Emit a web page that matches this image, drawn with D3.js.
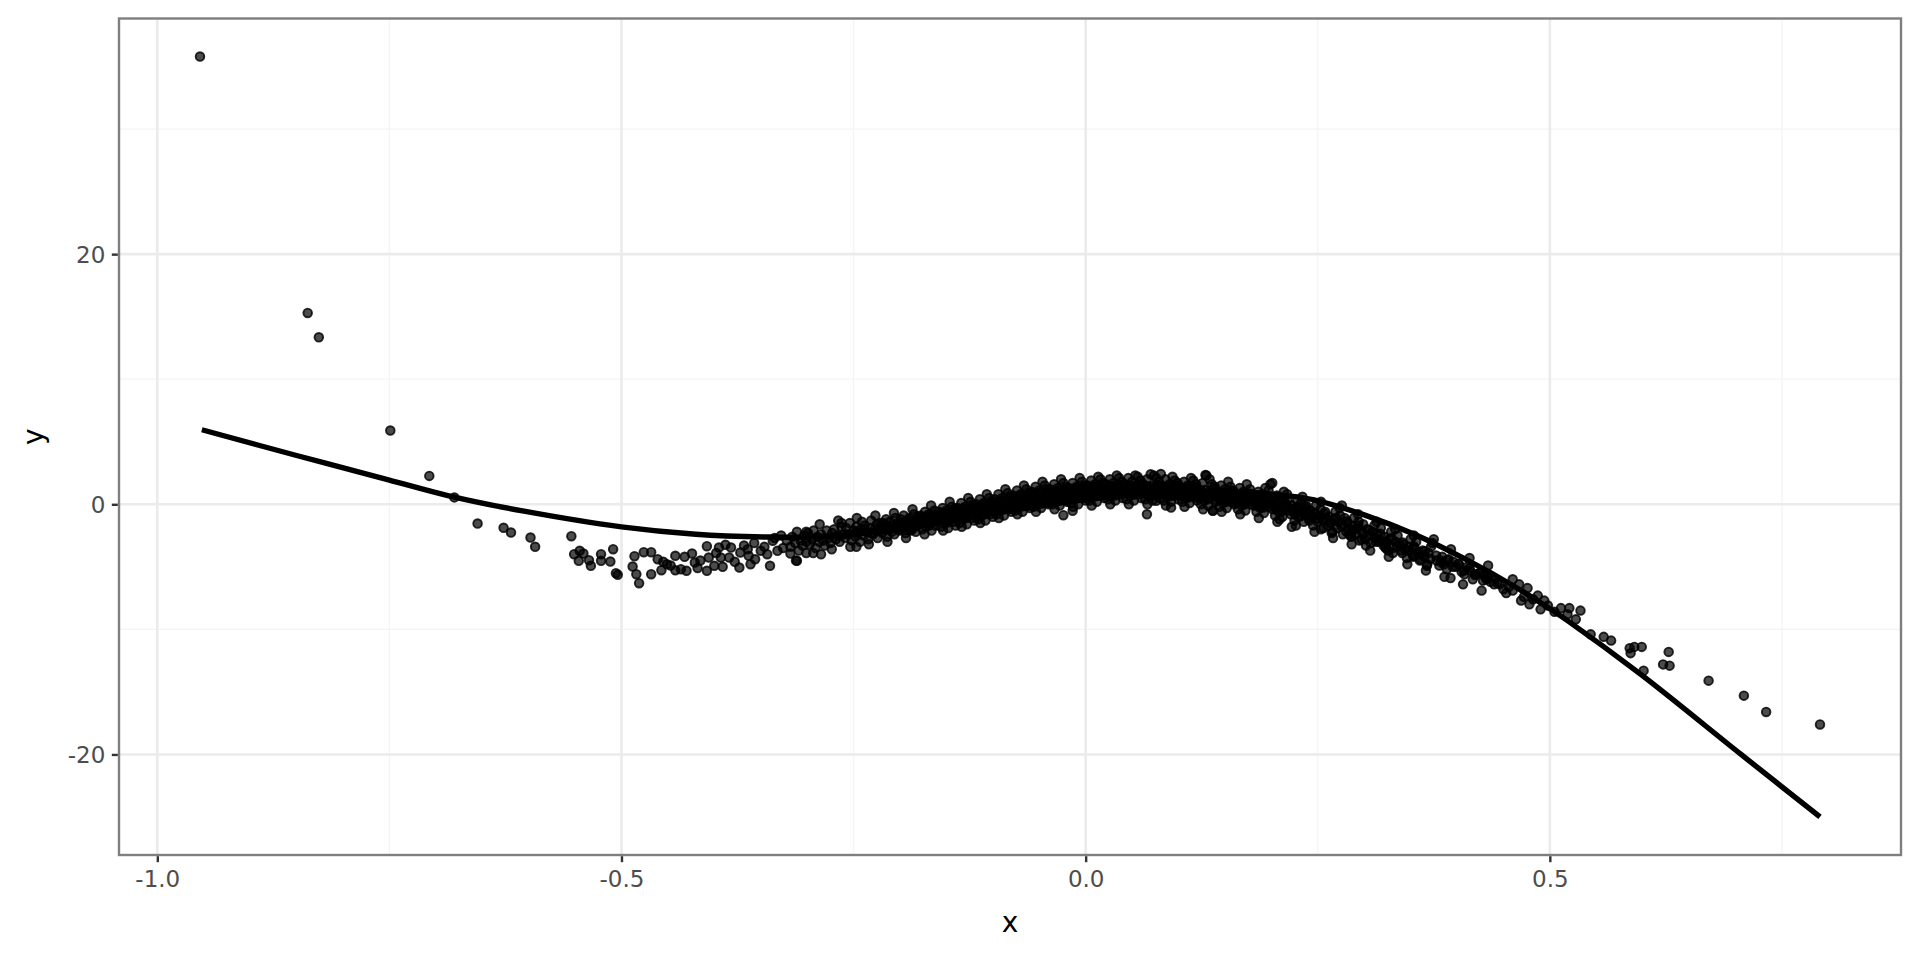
<!DOCTYPE html>
<html>
<head>
<meta charset="utf-8">
<script src="https://cdn.jsdelivr.net/npm/d3@7"></script>
<style>
  html, body { margin: 0; padding: 0; background: #fff; }
  svg { display: block; font-family: "DejaVu Sans", sans-serif; }
</style>
</head>
<body>
<div id="vis"></div>
<script>
// ---- data ----
const xTicks = [-1.0, -0.5, 0.0, 0.5]
const xMinor = [-0.75, -0.25, 0.25, 0.75]
const yTicks = [-20, 0, 20]
const yMinor = [-10, 10, 30]

// isolated points far to the left
const farLeftPts = [[-0.954, 35.8], [-0.838, 15.3], [-0.826, 13.35], [-0.749, 5.9]]

// sparse left tail of the cloud
const leftTailPts = [
  [-0.707, 2.27], [-0.680, 0.55], [-0.655, -1.54], [-0.627, -1.88], [-0.619, -2.26], [-0.598, -2.66], [-0.593, -3.40],
  [-0.554, -2.55], [-0.551, -3.99], [-0.545, -3.72], [-0.546, -4.52], [-0.541, -3.94], [-0.535, -4.47], [-0.533, -4.92],
  [-0.522, -3.99], [-0.522, -4.52], [-0.512, -4.58], [-0.509, -3.59], [-0.506, -5.51], [-0.504, -5.64], [-0.488, -4.98],
  [-0.486, -4.15], [-0.484, -5.59], [-0.481, -6.31], [-0.476, -3.83], [-0.468, -3.83], [-0.468, -5.59], [-0.461, -4.39],
  [-0.457, -5.27], [-0.451, -4.79], [-0.442, -4.12], [-0.442, -5.27], [-0.436, -5.19], [-0.432, -4.20], [-0.430, -5.32],
  [-0.424, -3.94], [-0.421, -4.66], [-0.408, -3.35], [-0.408, -5.32], [-0.406, -4.26], [-0.400, -4.92], [-0.395, -3.46],
  [-0.393, -4.26], [-0.388, -3.24], [-0.384, -4.26], [-0.382, -3.46], [-0.373, -5.06], [-0.372, -3.86], [-0.364, -3.59],
  [-0.361, -4.79], [-0.363, -4.12], [-0.350, -3.72], [-0.343, -3.99], [-0.340, -4.92], [-0.337, -2.92], [-0.332, -3.72],
  [-0.318, -3.94], [-0.311, -4.52], [-0.335, -2.7], [-0.328, -2.5], [-0.322, -2.9],
  [-0.455, -4.6], [-0.447, -4.9], [-0.415, -4.5], [-0.398, -3.9], [-0.378, -4.6], [-0.368, -3.3], [-0.356, -4.4],
  [-0.346, -3.4], [-0.326, -3.5], [-0.357, -3.1], [-0.391, -5.0], [-0.418, -5.1]
]

// dense band in the middle
const centralPts = [
  [-0.318, -3.4], [-0.316, -2.6], [-0.313, -3.1], [-0.311, -2.2], [-0.309, -3.7], [-0.307, -2.9], [-0.305, -3.3], [-0.303, -2.5], [-0.301, -3.0],
  [-0.312, -4.5], [-0.301, -3.9], [-0.285, -4.0], [-0.247, -3.4], [-0.263, -1.5], [-0.301, -2.2],
  [-0.299, -2.3], [-0.297, -3.2], [-0.295, -2.8], [-0.293, -2.1], [-0.291, -3.5], [-0.289, -2.6], [-0.287, -3.0], [-0.285, -2.4], [-0.283, -2.9], [-0.281, -3.3],
  [-0.279, -2.1], [-0.277, -2.7], [-0.275, -3.1], [-0.273, -2.3], [-0.271, -2.0], [-0.269, -2.8], [-0.267, -2.5], [-0.265, -3.0], [-0.263, -1.8], [-0.261, -2.4],
  [-0.259, -2.7], [-0.258, -1.9], [-0.256, -2.4], [-0.254, -1.5], [-0.252, -2.9], [-0.250, -2.1], [-0.248, -2.6], [-0.247, -1.8], [-0.245, -2.3], [-0.243, -3.0], [-0.242, -2.0], [-0.241, -1.4],
  [-0.239, -2.5], [-0.238, -1.7], [-0.236, -2.2], [-0.234, -2.8], [-0.232, -1.9], [-0.231, -1.3], [-0.229, -2.4], [-0.227, -2.0], [-0.225, -1.6], [-0.224, -2.7], [-0.222, -2.1], [-0.221, -1.5],
  [-0.219, -2.3], [-0.218, -1.5], [-0.217, -2.0], [-0.215, -1.2], [-0.214, -2.6], [-0.212, -1.8], [-0.211, -1.4], [-0.209, -2.2], [-0.208, -1.7], [-0.206, -2.4], [-0.205, -1.1], [-0.203, -1.9], [-0.202, -1.6], [-0.201, -2.1],
  [-0.199, -1.2], [-0.198, -2.0], [-0.197, -1.6], [-0.196, -0.9], [-0.194, -2.3], [-0.193, -1.4], [-0.192, -1.8], [-0.190, -1.1], [-0.189, -2.1], [-0.188, -1.5], [-0.186, -1.9], [-0.185, -0.8], [-0.184, -1.3], [-0.183, -2.2], [-0.182, -1.7], [-0.181, -1.0],
  [-0.179, -1.6], [-0.178, -0.9], [-0.177, -1.4], [-0.176, -2.0], [-0.174, -1.1], [-0.173, -0.6], [-0.172, -1.8], [-0.171, -1.3], [-0.169, -0.8], [-0.168, -1.5], [-0.166, -2.1], [-0.165, -1.0], [-0.164, -1.2], [-0.163, -0.5], [-0.162, -1.7], [-0.161, -1.4],
  [-0.159, -1.3], [-0.158, -0.6], [-0.157, -1.1], [-0.156, -1.8], [-0.155, -0.8], [-0.154, -0.3], [-0.152, -1.5], [-0.151, -1.0], [-0.150, -0.5], [-0.149, -1.2], [-0.148, -1.9], [-0.146, -0.7], [-0.145, -0.9], [-0.144, -0.2], [-0.143, -1.4], [-0.142, -1.1], [-0.141, -0.4], [-0.140, -1.7],
  [-0.139, -1.0], [-0.138, -0.3], [-0.137, -0.8], [-0.136, -1.5], [-0.135, -0.5], [-0.134, 0.1], [-0.132, -1.2], [-0.131, -0.7], [-0.130, -0.2], [-0.129, -0.9], [-0.128, -1.6], [-0.126, -0.4], [-0.125, -0.6], [-0.124, 0.2], [-0.123, -1.1], [-0.122, -0.8], [-0.121, -0.1], [-0.120, -1.3],
  [-0.119, -0.7], [-0.118, 0.0], [-0.117, -0.5], [-0.116, -1.2], [-0.115, -0.2], [-0.114, 0.4], [-0.112, -0.9], [-0.111, -0.4], [-0.110, 0.1], [-0.109, -0.6], [-0.108, -1.3], [-0.106, -0.1], [-0.105, -0.3], [-0.104, 0.5], [-0.103, -0.8], [-0.102, -0.5], [-0.101, 0.2], [-0.100, -1.0],
  [-0.099, -0.3], [-0.098, 0.4], [-0.097, -0.1], [-0.096, -0.8], [-0.095, 0.2], [-0.094, 0.8], [-0.092, -0.5], [-0.091, 0.0], [-0.090, 0.5], [-0.089, -0.2], [-0.088, -0.9], [-0.086, 0.3], [-0.085, 0.1], [-0.084, 0.9], [-0.083, -0.4], [-0.082, -0.1], [-0.081, 0.6], [-0.080, -0.6],
  [-0.079, 0.0], [-0.078, 0.7], [-0.077, 0.2], [-0.076, -0.5], [-0.075, 0.5], [-0.074, 1.1], [-0.072, -0.2], [-0.071, 0.3], [-0.070, 0.8], [-0.069, 0.1], [-0.068, -0.6], [-0.066, 0.6], [-0.065, 0.4], [-0.064, 1.2], [-0.063, -0.1], [-0.062, 0.2], [-0.061, 0.9], [-0.060, -0.3],
  [-0.024, -0.87], [-0.014, -0.52],
  [-0.059, 0.3], [-0.058, 1.0], [-0.057, 0.5], [-0.056, -0.2], [-0.055, 0.8], [-0.054, 1.4], [-0.052, 0.1], [-0.051, 0.6], [-0.050, 1.1], [-0.049, 0.4], [-0.048, -0.3], [-0.046, 0.9], [-0.045, 0.7], [-0.044, 1.5], [-0.043, 0.2], [-0.042, 0.5], [-0.041, 1.2], [-0.040, 0.0],
  [-0.039, 0.5], [-0.038, 1.2], [-0.037, 0.7], [-0.036, 0.0], [-0.035, 1.0], [-0.034, 1.6], [-0.032, 0.3], [-0.031, 0.8], [-0.030, 1.3], [-0.029, 0.6], [-0.028, -0.1], [-0.026, 1.1], [-0.025, 0.9], [-0.024, 1.7], [-0.023, 0.4], [-0.022, 0.7], [-0.021, 1.4], [-0.020, 0.2],
  [-0.019, 0.6], [-0.018, 1.3], [-0.017, 0.8], [-0.016, 0.1], [-0.015, 1.1], [-0.014, 1.7], [-0.012, 0.4], [-0.011, 0.9], [-0.010, 1.4], [-0.009, 0.7], [-0.008, 0.0], [-0.006, 1.2], [-0.005, 1.0], [-0.004, 1.8], [-0.003, 0.5], [-0.002, 0.8], [-0.001, 1.5], [0.000, 0.3],
  [0.001, 0.8], [0.002, 1.5], [0.003, 1.0], [0.004, 0.3], [0.005, 1.3], [0.006, 1.9], [0.008, 0.6], [0.009, 1.1], [0.010, 1.6], [0.011, 0.9], [0.012, 0.2], [0.014, 1.4], [0.015, 1.2], [0.016, 2.0], [0.017, 0.7], [0.018, 1.0], [0.019, 1.7], [0.020, 0.5],
  [0.021, 0.9], [0.022, 1.6], [0.023, 1.1], [0.024, 0.4], [0.025, 1.4], [0.026, 2.0], [0.028, 0.7], [0.029, 1.2], [0.030, 1.7], [0.031, 1.0], [0.032, 0.3], [0.034, 1.5], [0.035, 1.3], [0.036, 2.1], [0.037, 0.8], [0.038, 1.1], [0.039, 1.8], [0.040, 0.5],
  [0.041, 0.9], [0.042, 1.6], [0.043, 1.1], [0.044, 0.4], [0.045, 1.4], [0.046, 2.1], [0.048, 0.7], [0.049, 1.2], [0.050, 1.8], [0.051, 1.0], [0.052, 0.3], [0.054, 1.5], [0.055, 1.3], [0.056, 2.2], [0.057, 0.8], [0.058, 1.1], [0.059, 1.9], [0.060, 0.5],
  [0.061, 0.9], [0.062, 1.6], [0.063, 1.1], [0.064, 0.4], [0.065, 1.4], [0.066, 2.0], [0.068, 0.7], [0.069, 1.2], [0.070, 2.4], [0.071, 1.0], [0.072, 0.3], [0.074, 1.5], [0.075, 1.3], [0.076, 2.1], [0.077, 0.8], [0.078, 1.1], [0.079, 1.8], [0.080, 0.5], [0.066, -0.8],
  [0.081, 0.8], [0.082, 1.5], [0.083, 1.0], [0.084, 0.3], [0.085, 1.3], [0.086, 2.0], [0.088, 0.6], [0.089, 1.1], [0.090, 1.6], [0.091, 0.9], [0.092, 0.2], [0.094, 1.4], [0.095, 1.2], [0.096, 1.9], [0.097, 0.7], [0.098, 1.0], [0.099, 1.7], [0.100, 0.4],
  [0.076, 0.28], [0.092, -0.26], [0.137, -0.52], [0.081, 2.42], [0.129, 2.34],
  [0.101, 0.7], [0.102, 1.4], [0.103, 0.9], [0.104, 0.2], [0.105, 1.2], [0.106, 1.8], [0.108, 0.5], [0.109, 1.0], [0.110, 1.5], [0.111, 0.8], [0.112, 0.1], [0.114, 1.3], [0.115, 1.1], [0.116, 1.9], [0.117, 0.6], [0.118, 0.9], [0.119, 1.6], [0.120, 0.3],
  [0.121, 0.5], [0.122, 1.2], [0.123, 0.7], [0.124, 0.0], [0.125, 1.0], [0.126, 1.7], [0.128, 0.3], [0.129, 0.8], [0.130, 2.3], [0.131, 0.6], [0.132, -0.1], [0.134, 1.1], [0.135, 0.9], [0.136, 1.6], [0.137, -0.5], [0.138, 0.7], [0.139, 1.4], [0.140, 0.2],
  [0.141, 0.3], [0.142, 1.0], [0.143, 0.5], [0.144, -0.2], [0.145, 0.8], [0.146, 1.5], [0.148, 0.1], [0.149, 0.6], [0.150, 1.2], [0.151, 0.4], [0.152, -0.3], [0.154, 0.9], [0.155, 0.7], [0.156, 1.4], [0.157, 0.2], [0.158, 0.5], [0.159, 1.1], [0.160, 0.0],
  [0.161, 0.1], [0.162, 0.8], [0.163, 0.3], [0.164, -0.4], [0.165, 0.6], [0.166, 1.3], [0.168, -0.1], [0.169, 0.4], [0.170, 1.0], [0.171, 0.2], [0.172, -0.5], [0.174, 0.7], [0.176, 0.5], [0.177, 1.2], [0.178, 0.0], [0.179, 0.3],
  [0.181, -0.1], [0.182, 0.6], [0.183, 0.1], [0.184, -0.6], [0.185, 0.4], [0.186, 1.0], [0.188, -0.3], [0.189, 0.2], [0.190, 0.8], [0.191, 0.0], [0.192, -0.7], [0.194, 0.5], [0.196, 0.3], [0.197, 1.1], [0.198, -0.2], [0.199, 1.6],
  [0.201, -0.4], [0.202, 0.3], [0.203, -0.2], [0.204, -0.9], [0.205, 0.1], [0.206, 0.7], [0.208, -0.6], [0.209, -1.2], [0.210, 0.5], [0.211, -0.3], [0.212, -1.0], [0.214, 0.2], [0.216, 0.0], [0.217, 0.8], [0.219, -0.5], [0.222, -1.8], [0.201, 1.7],
  [0.221, -0.8], [0.222, -0.1], [0.224, -0.6], [0.225, -1.3], [0.226, -0.3], [0.228, 0.3], [0.229, -1.0], [0.231, -0.5], [0.232, 0.1], [0.234, -0.7], [0.235, -1.4], [0.237, -0.2], [0.238, -0.4], [0.240, -1.1],
  [0.241, -1.3], [0.242, -0.5], [0.244, -1.0], [0.245, -1.7], [0.247, -0.7], [0.248, -0.1], [0.250, -1.4], [0.252, -0.9], [0.253, -0.4], [0.255, -1.2], [0.256, -1.9], [0.258, -0.6], [0.259, -1.1],
  [0.261, -1.7], [0.262, -1.0], [0.264, -1.5], [0.266, -2.2], [0.267, -1.2], [0.269, -0.6], [0.271, -1.9], [0.272, -1.4], [0.274, -0.9], [0.276, -1.6], [0.277, -2.4], [0.279, -1.1], [0.276, -0.1], [0.286, -2.5],
  [0.281, -2.2], [0.282, -1.5], [0.284, -2.0], [0.286, -2.6], [0.287, -1.7], [0.289, -1.1], [0.291, -2.4], [0.292, -1.9], [0.294, -1.4], [0.296, -2.1], [0.297, -2.8], [0.299, -1.6], [0.302, -3.3],
  [0.301, -2.8], [0.303, -2.0], [0.305, -2.5], [0.307, -3.1], [0.309, -2.2], [0.311, -1.7], [0.312, -2.7], [0.314, -2.4], [0.316, -3.0], [0.318, -1.9],
  [0.321, -3.3], [0.322, -2.6], [0.324, -3.1], [0.326, -3.7], [0.327, -2.8], [0.329, -2.2], [0.331, -3.5], [0.334, -3.0], [0.336, -2.5], [0.338, -3.2], [0.323, -3.46], [0.316, -2.92],
  [0.341, -3.9], [0.342, -3.2], [0.344, -3.6], [0.346, -4.3], [0.348, -3.4], [0.350, -2.8], [0.352, -4.0], [0.354, -3.5], [0.356, -3.0], [0.358, -3.8], [0.354, -4.12],
  [0.361, -4.4], [0.363, -3.7], [0.365, -4.2], [0.368, -4.8], [0.369, -3.9], [0.372, -3.4], [0.375, -2.8], [0.378, -4.5],
  [0.381, -4.9], [0.384, -4.2], [0.386, -4.8], [0.389, -5.2], [0.391, -4.4], [0.393, -5.9], [0.396, -4.6], [0.399, -5.0],
  [0.402, -4.8], [0.405, -5.4], [0.408, -5.6], [0.411, -5.0], [0.414, -5.3], [0.417, -6.0], [0.420, -5.6],
  [0.424, -5.5], [0.429, -5.7], [0.433, -5.9], [0.436, -6.2], [0.440, -6.4], [0.428, -6.1],
  [0.446, -6.4], [0.450, -6.8], [0.453, -7.1], [0.456, -6.6], [0.460, -6.0], [0.460, -6.9], [0.467, -6.4]
]

// more of the band where it is thickest
const centralPts2 = [
  [-0.2475, -2.2], [-0.2385, -1.95], [-0.2295, -2.3], [-0.2205, -1.75], [-0.2115, -2.0], [-0.2025, -1.5],
  [-0.1975, -1.45], [-0.1935, -1.75], [-0.1905, -1.3], [-0.1875, -2.05], [-0.1845, -1.55], [-0.1815, -1.2],
  [-0.1775, -1.1], [-0.1745, -1.5], [-0.1715, -0.95], [-0.1685, -1.7], [-0.1655, -1.3], [-0.1625, -0.85],
  [-0.1575, -0.85], [-0.1545, -1.25], [-0.1515, -0.7], [-0.1485, -1.45], [-0.1455, -1.05], [-0.1425, -0.6],
  [-0.1375, -0.55], [-0.1345, -0.95], [-0.1315, -0.35], [-0.1285, -1.1], [-0.1255, -0.75], [-0.1225, -0.25],
  [-0.1175, -0.25], [-0.1145, -0.65], [-0.1115, -0.05], [-0.1085, -0.8], [-0.1055, -0.45], [-0.1025, 0.05],
  [-0.0975, 0.15], [-0.0945, -0.25], [-0.0915, 0.35], [-0.0885, -0.4], [-0.0855, -0.05], [-0.0825, 0.45],
  [-0.0775, 0.45], [-0.0745, 0.05], [-0.0715, 0.65], [-0.0685, -0.1], [-0.0655, 0.25], [-0.0625, 0.75],
  [-0.0575, 0.7], [-0.0545, 0.3], [-0.0515, 0.9], [-0.0485, 0.15], [-0.0455, 0.5], [-0.0425, 1.0],
  [-0.0375, 0.9], [-0.0345, 0.5], [-0.0315, 1.1], [-0.0285, 0.35], [-0.0255, 0.7], [-0.0225, 1.2],
  [-0.0175, 1.05], [-0.0145, 0.65], [-0.0115, 1.25], [-0.0085, 0.5], [-0.0055, 0.85], [-0.0025, 1.35],
  [0.0025, 1.2], [0.0055, 0.8], [0.0085, 1.4], [0.0115, 0.65], [0.0145, 1.0], [0.0175, 1.5],
  [0.0225, 1.25], [0.0255, 0.85], [0.0285, 1.45], [0.0315, 0.7], [0.0345, 1.05], [0.0375, 1.55],
  [0.0425, 1.3], [0.0455, 0.9], [0.0485, 1.5], [0.0515, 0.75], [0.0545, 1.1], [0.0575, 1.6],
  [0.0625, 1.25], [0.0655, 0.85], [0.0685, 1.45], [0.0715, 0.7], [0.0745, 1.05], [0.0775, 1.55],
  [0.0825, 1.2], [0.0855, 0.8], [0.0885, 1.4], [0.0915, 0.65], [0.0945, 1.0], [0.0975, 1.5],
  [0.1025, 1.1], [0.1055, 0.7], [0.1085, 1.3], [0.1115, 0.55], [0.1145, 0.9], [0.1175, 1.4],
  [0.1225, 0.95], [0.1255, 0.55], [0.1285, 1.15], [0.1315, 0.4], [0.1345, 0.75], [0.1375, 1.25],
  [0.1425, 0.75], [0.1455, 0.35], [0.1485, 0.95], [0.1515, 0.2], [0.1545, 0.55], [0.1575, 1.05],
  [0.1625, 0.55], [0.1655, 0.15], [0.1685, 0.75], [0.1715, 0.0], [0.1745, 0.35], [0.1775, 0.85],
  [0.1825, 0.3], [0.1855, -0.1], [0.1885, 0.5], [0.1915, -0.25], [0.1945, 0.1], [0.1975, 0.6],
  [0.2025, 0.0], [0.2055, -0.4], [0.2085, 0.2], [0.2115, -0.55], [0.2145, -0.2], [0.2175, 0.3],
  [0.2225, -0.4], [0.2255, -0.8], [0.2285, -0.2], [0.2315, -0.95], [0.2345, -0.6], [0.2375, -0.1],
  [0.2533, -1.99], [0.2838, -2.39], [0.3125, -3.0], [0.331, -3.9], [0.353, -4.2], [0.3675, -4.92],
  [0.3825, -4.52], [0.3233, -3.5], [0.295, -2.9], [0.265, -2.3], [0.34, -3.7], [0.36, -4.5]
]

// points at the upper and lower edges of the band, and the right-hand band body
const bandEdgePts = [
  [-0.2935, -3.9], [-0.2865, -1.6], [-0.2735, -3.6], [-0.2665, -1.3], [-0.2535, -3.4], [-0.2465, -1.1],
  [-0.2335, -3.2], [-0.2265, -0.9], [-0.2135, -3.0], [-0.2065, -0.7], [-0.1935, -2.7], [-0.1865, -0.4],
  [-0.1735, -2.4], [-0.1665, -0.1], [-0.1535, -2.1], [-0.1465, 0.2], [-0.1335, -1.8], [-0.1265, 0.5],
  [-0.1135, -1.5], [-0.1065, 0.8], [-0.0935, -1.1], [-0.0865, 1.2], [-0.0735, -0.8], [-0.0665, 1.5],
  [-0.0535, -0.6], [-0.0465, 1.8], [-0.0335, -0.4], [-0.0265, 2.0], [-0.0135, -0.2], [-0.0065, 2.1],
  [0.0065, -0.1], [0.0135, 2.2], [0.0265, 0.0], [0.0335, 2.3], [0.0465, 0.0], [0.0535, 2.3],
  [0.0665, 0.0], [0.0735, 2.3], [0.0865, -0.1], [0.0935, 2.2], [0.1065, -0.2], [0.1135, 2.1],
  [0.1265, -0.4], [0.1335, 2.0], [0.1465, -0.6], [0.1535, 1.8], [0.1665, -0.8], [0.1735, 1.6],
  [0.1865, -1.1], [0.1935, 1.3], [0.2065, -1.4], [0.2135, 1.0], [0.2265, -1.7], [0.2335, 0.6],
  [0.2465, -2.2], [0.2535, 0.2], [0.2665, -2.7], [0.2735, -0.3], [0.2865, -3.2], [0.2935, -0.8],
  [0.3065, -3.7], [0.3135, -1.4], [0.3265, -4.2], [0.3335, -2.0], [0.3465, -4.8], [0.3535, -2.5],
  [0.3665, -5.3], [0.3735, -3.1], [0.3865, -5.8], [0.3935, -3.6], [0.4065, -6.4], [0.4135, -4.3],
  [0.4265, -6.9], [0.4335, -4.9],
  [0.2435, -0.85], [0.2515, -1.15], [0.2575, -0.75], [0.2635, -1.45], [0.2695, -1.1], [0.2755, -1.75],
  [0.2815, -1.35], [0.2875, -2.05], [0.2935, -1.7], [0.2995, -2.35], [0.3055, -2.05], [0.3115, -2.65],
  [0.3175, -2.35], [0.3235, -3.0], [0.3295, -2.7], [0.3355, -3.35], [0.3415, -3.05], [0.3475, -3.7],
  [0.3535, -3.35], [0.3595, -4.0], [0.3655, -3.75], [0.3715, -4.35], [0.3775, -4.1], [0.3835, -4.65],
  [0.3895, -4.45], [0.3955, -5.0], [0.4015, -4.75], [0.4075, -5.3], [0.4135, -5.1], [0.4195, -5.65],
  [0.4255, -5.45], [0.4315, -6.0], [0.4375, -5.8], [0.4435, -6.3]
]

// right tail of the cloud
const rightTailPts = [
  [0.469, -7.7], [0.472, -7.4], [0.476, -6.7], [0.478, -8.0], [0.482, -7.6], [0.487, -7.3], [0.490, -8.4], [0.494, -7.7],
  [0.498, -8.1], [0.505, -8.6], [0.512, -8.3], [0.519, -8.8], [0.521, -8.3], [0.528, -9.2], [0.533, -8.5], [0.544, -10.4],
  [0.558, -10.6], [0.566, -10.9], [0.586, -11.5], [0.591, -11.4], [0.599, -11.4], [0.587, -11.9], [0.601, -13.3],
  [0.628, -11.8], [0.622, -12.8], [0.629, -12.9], [0.671, -14.1], [0.709, -15.3], [0.733, -16.6], [0.791, -17.6]
]

// fitted curve
const fitX = [-0.952, -0.85, -0.751, -0.687, -0.605, -0.5, -0.42, -0.342, -0.30, -0.25, -0.19, -0.127, -0.063,
  0.0, 0.05, 0.1, 0.15, 0.21, 0.246, 0.30, 0.354, 0.408, 0.4615, 0.501, 0.519, 0.598, 0.706, 0.791]
const fitY = [5.96, 3.9, 1.96, 0.7, -0.55, -1.8, -2.39, -2.62, -2.62, -2.4, -1.85, -1.05, -0.3,
  0.38, 0.82, 1.03, 1.02, 0.75, 0.35, -0.85, -2.4, -4.35, -6.55, -8.4, -9.3, -13.6, -20.0, -25.0]

// ---- layout ----
const width = 1920, height = 960
const panel = {left: 119, top: 18.5, right: 1901, bottom: 855}

const points = farLeftPts.concat(leftTailPts, centralPts, centralPts2, bandEdgePts, rightTailPts)
const fitLine = fitX.map((x, i) => [x, fitY[i]])

// ggplot-style 5% expansion of the data range
function expand(ext) {
    let pad = (ext[1] - ext[0]) * 0.05
    return [ext[0] - pad, ext[1] + pad]
}
const allX = points.map(d => d[0]).concat(fitX)
const allY = points.map(d => d[1]).concat(fitY)

const xScale = d3.scaleLinear().domain(expand(d3.extent(allX))).range([panel.left, panel.right])
const yScale = d3.scaleLinear().domain(expand(d3.extent(allY))).range([panel.bottom, panel.top])

const svg = d3.select('#vis').append('svg')
    .attr('width', width)
    .attr('height', height)

// panel background + grid
svg.append('rect')
    .attr('x', panel.left).attr('y', panel.top)
    .attr('width', panel.right - panel.left).attr('height', panel.bottom - panel.top)
    .attr('fill', '#fff')

const grid = svg.append('g')
grid.selectAll('.xminor').data(xMinor.filter(v => xScale(v) < panel.right)).join('line')
    .attr('x1', d => xScale(d)).attr('x2', d => xScale(d))
    .attr('y1', panel.top).attr('y2', panel.bottom)
    .attr('stroke', '#f4f4f4').attr('stroke-width', 1.3)
grid.selectAll('.yminor').data(yMinor).join('line')
    .attr('x1', panel.left).attr('x2', panel.right)
    .attr('y1', d => yScale(d)).attr('y2', d => yScale(d))
    .attr('stroke', '#f4f4f4').attr('stroke-width', 1.3)
grid.selectAll('.xmajor').data(xTicks).join('line')
    .attr('x1', d => xScale(d)).attr('x2', d => xScale(d))
    .attr('y1', panel.top).attr('y2', panel.bottom)
    .attr('stroke', '#ebebeb').attr('stroke-width', 2.6)
grid.selectAll('.ymajor').data(yTicks).join('line')
    .attr('x1', panel.left).attr('x2', panel.right)
    .attr('y1', d => yScale(d)).attr('y2', d => yScale(d))
    .attr('stroke', '#ebebeb').attr('stroke-width', 2.6)

// points
svg.append('g').selectAll('circle').data(points).join('circle')
    .attr('cx', d => xScale(d[0]))
    .attr('cy', d => yScale(d[1]))
    .attr('r', 4.3)
    .attr('fill', '#000').attr('fill-opacity', 0.7)
    .attr('stroke', '#000').attr('stroke-opacity', 0.82).attr('stroke-width', 1.9)

// fitted line
svg.append('path')
    .datum(fitLine)
    .attr('fill', 'none')
    .attr('stroke', '#000')
    .attr('stroke-width', 5.4)
    .attr('d', d3.line().x(d => xScale(d[0])).y(d => yScale(d[1])).curve(d3.curveCatmullRom.alpha(0.5)))

// panel border
svg.append('rect')
    .attr('x', panel.left).attr('y', panel.top)
    .attr('width', panel.right - panel.left).attr('height', panel.bottom - panel.top)
    .attr('fill', 'none').attr('stroke', '#7f7f7f').attr('stroke-width', 2.4)

// axes
let xAxis = svg.append('g')
    .attr('transform', `translate(0,${panel.bottom + 1.2})`)
    .call(d3.axisBottom(xScale).tickValues(xTicks).tickSize(6).tickPadding(8).tickFormat(d => d.toFixed(1)))
let yAxis = svg.append('g')
    .attr('transform', `translate(${panel.left - 1.2},0)`)
    .call(d3.axisLeft(yScale).tickValues(yTicks).tickSize(6).tickPadding(6.5).tickFormat(d => String(d)))

svg.selectAll('.domain').remove()
svg.selectAll('.tick line').attr('stroke', '#333').attr('stroke-width', 2.4)
svg.selectAll('.tick text')
    .attr('fill', '#4d4d4d')
    .style('font-family', '"DejaVu Sans", sans-serif')
    .style('font-size', '23px')
yAxis.selectAll('.tick text').attr('dy', '0.36em')

// axis titles
svg.append('text')
    .attr('x', (panel.left + panel.right) / 2)
    .attr('y', 932)
    .attr('text-anchor', 'middle')
    .style('font-size', '28px')
    .attr('fill', '#000')
    .text('x')

svg.append('text')
    .attr('transform', `translate(43,${(panel.top + panel.bottom) / 2}) rotate(-90)`)
    .attr('text-anchor', 'middle')
    .style('font-size', '28px')
    .attr('fill', '#000')
    .text('y')
</script>
</body>
</html>
